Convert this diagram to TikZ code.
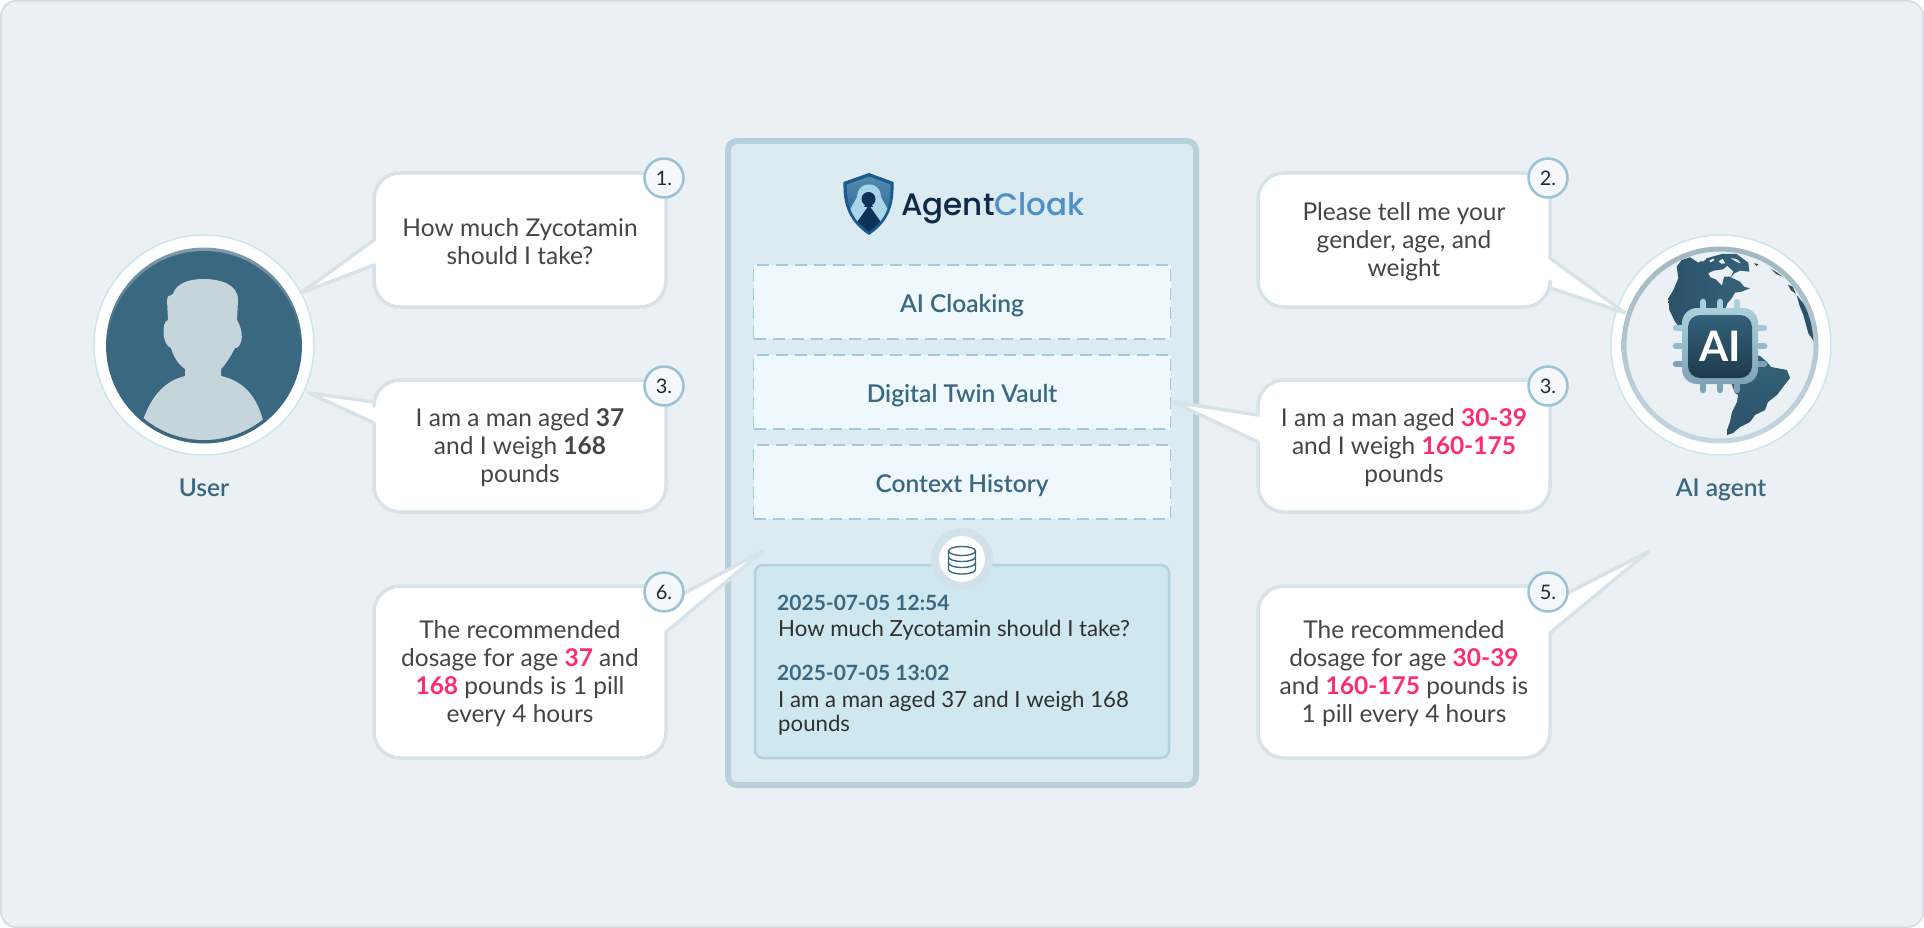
\documentclass[tikz,border=0pt]{standalone}
\usepackage{fontspec}
\setmainfont{Lato}
\newfontfamily\logofont{Poppins Medium}
\newfontfamily\medfont{Lato Semibold}
\definecolor{pagebg}{HTML}{EAF0F3}
\definecolor{pageln}{HTML}{CFDCE3}
\definecolor{bubln}{HTML}{D8E3E9}
\definecolor{badgeln}{HTML}{9CC3D5}
\definecolor{badgefl}{HTML}{F5F7FA}
\definecolor{badgetx}{HTML}{1F2A37}
\definecolor{txt}{HTML}{454545}
\definecolor{teal}{HTML}{3A6880}
\definecolor{pink}{HTML}{FF2D6F}
\definecolor{panelln}{HTML}{B8D0DA}
\definecolor{panelfl}{HTML}{DCEAF1}
\definecolor{dashln}{HTML}{A5C8DA}
\definecolor{dashfl}{HTML}{EFF8FC}
\definecolor{dbfl}{HTML}{CFE7EE}
\definecolor{dbln}{HTML}{B3D2DE}
\definecolor{sil}{HTML}{C6D5DC}
\definecolor{halo}{HTML}{CDE6EE}
\definecolor{land}{HTML}{2C5268}
\definecolor{landlt}{HTML}{356379}
\definecolor{chiptop}{HTML}{ABD0DC}
\definecolor{chipbot}{HTML}{7FA3B6}
\definecolor{coretop}{HTML}{33627A}
\definecolor{corebot}{HTML}{1F3A4C}
\definecolor{shieldedge}{HTML}{1A5A8C}
\definecolor{shieldtop}{HTML}{5A8FB2}
\definecolor{cloaklt}{HTML}{A9D5EA}
\definecolor{cloakdk}{HTML}{0B3358}
\definecolor{logodark}{HTML}{0E2A47}
\definecolor{logoblue}{HTML}{4F8FC8}
\tikzset{
  bubblepath/.style={draw=bubln,fill=white,line width=3.5pt,line join=round},
  bubbletext/.style={font=\fontsize{24.5}{28}\selectfont,text=txt,align=center,inner sep=0pt},
  badge/.style={circle,draw=badgeln,fill=badgefl,line width=2.5pt,minimum size=39pt,inner sep=0pt,text=badgetx,font=\fontsize{20}{20}\selectfont},
  slabel/.style={font=\medfont\fontsize{24.5}{28}\selectfont,text=teal,inner sep=0pt},
  dashbox/.style={draw=dashln,fill=dashfl,line width=1.8pt,dash pattern=on 12pt off 7pt,minimum width=417pt,minimum height=74pt,inner sep=0pt,text height=22pt,text depth=2pt,font=\medfont\fontsize{24.5}{28}\selectfont,text=teal},
  stamp/.style={font=\bfseries\fontsize{21}{24}\selectfont,text=teal,inner sep=0pt,anchor=west},
  logtext/.style={font=\fontsize{22.2}{24}\selectfont,text=txt!70!black,inner sep=0pt,anchor=west,align=left},
  pinpath/.style={line width=6.5pt,line cap=round},
}
\newcommand{\hl}[1]{{\bfseries\color{pink}#1}}
\begin{document}
\begin{tikzpicture}[x=1pt,y=-1pt]
\useasboundingbox (0,0) rectangle (1924,928);
% page
\draw[fill=pagebg,draw=pageln,line width=1.5pt,rounded corners=16pt] (0.75,0.75) rectangle (1923.25,927.25);

% ---------- user avatar
\fill[white] (204,345) circle (110);
\draw[halo,line width=1.5pt] (204,345) circle (110);
\shade[top color=teal!65!white,bottom color=teal,middle color=teal] (204,345.5) circle (98);
\fill[teal] (204,347) circle (96);
\begin{scope}
\clip (204,345.5) circle (94.5);
\fill[sil] (173,294) -- (168,296.5) -- (167,300) -- (168,320) .. controls (161,322) and (162,345) .. (171,348)
  .. controls (174,358) and (178,364) .. (185,369) -- (185,376)
  .. controls (165,381) and (152,395) .. (143,420) -- (143,460) -- (265,460) -- (263,420)
  .. controls (256,395) and (243,381) .. (221,376) -- (221,369)
  .. controls (226,364) and (231,356) .. (235,348)
  .. controls (239,349) and (247,338) .. (237,320) -- (238,300)
  .. controls (238,285) and (222,279) .. (203,279) .. controls (190,279) and (176,283) .. (173,294) -- cycle;
\end{scope}
\node[slabel] (userlabel) at (204,488) {User};

% ---------- globe
\fill[white] (1721,345) circle (110);
\draw[halo,line width=1.5pt] (1721,345) circle (110);
\fill[pagebg] (1720,345) circle (96);
\begin{scope}
\clip (1720,345) circle (95);
\begin{scope}[shift={(1640,240)},x=0.3333pt,y=-0.3333pt]
\shade[left color=land,right color=landlt] (125,60) -- (150,52) -- (175,68) -- (200,55) -- (245,42) -- (290,42) -- (325,68) -- (328,95) -- (300,92) -- (283,100) -- (272,112)
  -- (285,118) -- (300,125) -- (312,140) -- (330,145) -- (305,155) -- (285,158) -- (275,175) -- (262,190) -- (255,210) -- (270,270) -- (150,270)
  -- (125,270) -- (105,245) -- (88,210) -- (85,175) -- (100,150) -- (115,115) -- (110,80) -- cycle;
\fill[pagebg] (205,100) -- (222,92) -- (250,88) -- (262,78) -- (280,95) -- (272,110) -- (252,110) -- (246,136) -- (228,118) -- (212,112) -- cycle;
\fill[pagebg] (180,60) -- (192,54) -- (198,58) -- (188,65) -- cycle;
\fill[pagebg] (208,62) -- (220,56) -- (223,60) -- (212,67) -- cycle;
\fill[pagebg] (236,64) -- (248,56) -- (252,64) -- (256,70) -- (244,71) -- cycle;
\fill[pagebg] (272,54) -- (292,58) -- (302,70) -- (290,66) -- cycle;
\fill[land] (342,70) -- (356,72) -- (350,78) -- cycle;
\fill[land] (392,86) -- (412,98) -- (428,110) -- (408,102) -- cycle;
\fill[land] (444,134) -- (458,140) -- (468,162) -- (452,150) -- cycle;
\fill[land] (470,165) -- (490,190) -- (525,250) -- (530,315) -- (505,280) -- (490,225) -- (478,195) -- cycle;
\end{scope}
\shade[top color=landlt,bottom color=land] (1760,356) -- (1767,362) -- (1771,367) -- (1787,370) -- (1790,378) -- (1783,387) -- (1777,395) -- (1768,402) -- (1765,410) -- (1755,415) -- (1750,422) -- (1740,427) -- (1733,433) -- (1727,435) -- (1727,430) -- (1730,422) -- (1732,412) -- (1737,402) -- (1738,395) -- (1735,393) -- (1730,380) -- (1740,350) -- cycle;
\end{scope}
\shade[even odd rule,top color=panelln!88!black,bottom color=panelln!85!white] (1720,345) circle (98.5) (1720,345) circle (93.5);
% chip
\foreach \px in {1703,1720,1737} {
  \draw[pinpath,chiptop] (\px,302) -- (\px,312);
  \draw[pinpath,chipbot] (\px,380) -- (\px,390);
}
\foreach \py/\pc in {328/chiptop!85!chipbot,346/chiptop!50!chipbot,364/chipbot} {
  \draw[pinpath,\pc] (1676,\py) -- (1686,\py);
  \draw[pinpath,\pc] (1754,\py) -- (1764,\py);
}
\shade[top color=chiptop,bottom color=chipbot,rounded corners=15pt] (1682,308) rectangle (1758,384);
\shade[top color=coretop,bottom color=corebot,rounded corners=12pt] (1688,315) rectangle (1752,378);
\node[font=\bfseries\fontsize{42}{42}\selectfont,text=white,inner sep=0pt] (ailogo) at (1720,346) {AI};
\node[slabel] (agentlabel) at (1721,490) {AI agent};

% ---------- panel
\draw[draw=panelln,fill=panelfl,line width=6pt,rounded corners=9pt] (728,141) rectangle (1196,785);
% logo shield
\fill[shieldedge] (869,173) -- (893.5,182) .. controls (894,200) and (892,220) .. (869,235) .. controls (846,220) and (843,200) .. (843.5,182) -- cycle;
\begin{scope}
\clip (869,176.5) -- (890.5,184.5) .. controls (891,200) and (889,218) .. (869,231.5) .. controls (849,218) and (846.5,200) .. (847,184.5) -- cycle;
\shade[top color=shieldtop,bottom color=shieldedge] (840,170) rectangle (900,240);
\fill[cloaklt] (869,184.5) .. controls (861,184.5) and (857,190) .. (857,197) -- (845,219) -- (853,227) -- (869,206) -- (885,227) -- (893,219) -- (881,197) .. controls (881,190) and (877,184.5) .. (869,184.5) -- cycle;
\fill[cloakdk] (869,205) -- (884,227) -- (869,236) -- (854,227) -- cycle;
\end{scope}
\fill[cloakdk] (868.5,199) circle (7);
\fill[cloakdk] (868.5,199) -- (864,207) -- (873,207) -- cycle;
\node[font=\logofont\fontsize{31}{36}\selectfont,inner sep=0pt,anchor=base west] (logotext) at (901,215) {\textcolor{logodark}{Agent}\textcolor{logoblue}{Cloak}};

\node[dashbox] (cloakbox) at (962,302) {AI Cloaking};
\node[dashbox] (twinbox) at (962,392) {Digital Twin Vault};
\node[dashbox] (histbox) at (962,482) {Context History};

% db panel
\draw[draw=dbln,fill=dbfl,line width=2.5pt,rounded corners=8pt] (755,565) rectangle (1169,758);
\fill[white] (962,559) circle (27);
\draw[panelfl!70!panelln,line width=8pt] (962,559) circle (27);
\begin{scope}[teal,line width=1.4pt]
\draw (948.5,551) arc[start angle=180,end angle=-180,x radius=13.5,y radius=4.5];
\draw (948.5,551) -- (948.5,569.5) arc[start angle=180,end angle=0,x radius=13.5,y radius=4.5] -- (975.5,551);
\draw (948.5,557) arc[start angle=180,end angle=0,x radius=13.5,y radius=4.5];
\draw (948.5,563) arc[start angle=180,end angle=0,x radius=13.5,y radius=4.5];
\end{scope}
\node[stamp] (stampa) at (777,603) {2025-07-05 12:54};
\node[logtext] (loga) at (778,630) {How much Zycotamin should I take?};
\node[stamp] (stampb) at (777,673) {2025-07-05 13:02};
\node[logtext] (logb) at (778,701) {I am a man aged 37 and I weigh 168};
\node[logtext] (logc) at (778,725) {pounds};

% ---------- bubbles
\draw[bubblepath] (374,240) -- (301,293) -- (374,265) [rounded corners=26pt] -- (374,307) -- (666,307) -- (666,173) -- (374,173) [sharp corners] -- cycle;
\draw[bubblepath] (374,402) -- (309,393) -- (374,423) [rounded corners=26pt] -- (374,512) -- (666,512) -- (666,380) -- (374,380) [sharp corners] -- cycle;
\draw[bubblepath] (664,586) -- (664,604) -- (763,551) -- (666,632) [rounded corners=26pt] -- (666,758) -- (374,758) -- (374,586) [sharp corners] -- cycle;
\draw[bubblepath] (1550,258) -- (1625,313) -- (1550,288) [rounded corners=26pt] -- (1550,307) -- (1258,307) -- (1258,173) -- (1550,173) [sharp corners] -- cycle;
\draw[bubblepath] (1258,415) -- (1173,402) -- (1258,442) [rounded corners=26pt] -- (1258,512) -- (1550,512) -- (1550,380) -- (1258,380) [sharp corners] -- cycle;
\draw[bubblepath] (1548,586) -- (1548,603) -- (1648,552) -- (1550,633) [rounded corners=26pt] -- (1550,758) -- (1258,758) -- (1258,586) [sharp corners] -- cycle;

\node[bubbletext] (msga) at (520,241.5) {How much Zycotamin\\should I take?};
\node[bubbletext] (msgb) at (520,448) {I am a man aged \textbf{37}\\and I weigh \textbf{168}\\pounds};
\node[bubbletext] (msgc) at (520,673.5) {The recommended\\dosage for age \hl{37} and\\\hl{168} pounds is 1 pill\\every 4 hours};
\node[bubbletext] (msgd) at (1404,241.5) {Please tell me your\\gender, age, and\\weight};
\node[bubbletext] (msge) at (1404,448) {I am a man aged \hl{30-39}\\and I weigh \hl{160-175}\\pounds};
\node[bubbletext] (msgf) at (1404,673.5) {The recommended\\dosage for age \hl{30-39}\\and \hl{160-175} pounds is\\1 pill every 4 hours};

\node[badge] (ba) at (664,178) {1.};
\node[badge] (bb) at (664,386) {3.};
\node[badge] (bc) at (664,592) {6.};
\node[badge] (bd) at (1548,178) {2.};
\node[badge] (be) at (1548,386) {3.};
\node[badge] (bf) at (1548,592) {5.};
\end{tikzpicture}
\end{document}
